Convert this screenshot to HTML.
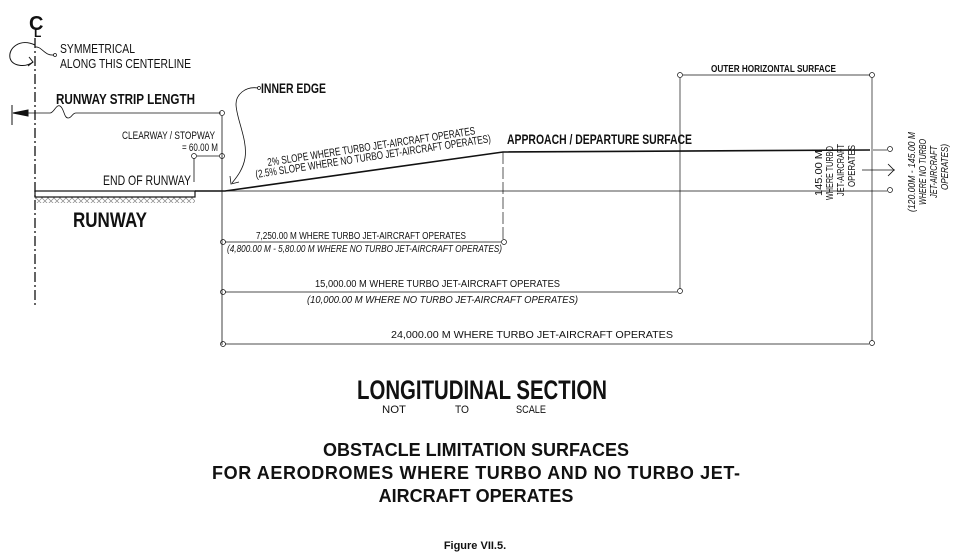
<!DOCTYPE html>
<html><head><meta charset="utf-8"><style>
html,body{margin:0;padding:0;background:#fff;}
svg{display:block;font-family:"Liberation Sans",Arial,sans-serif;}
</style></head><body>
<svg width="962" height="560" viewBox="0 0 962 560" xmlns="http://www.w3.org/2000/svg">
<defs>
<pattern id="h" width="6" height="6" patternUnits="userSpaceOnUse">
<path d="M0 6 L6 0 M0 0 L6 6" stroke="#888" stroke-width="0.7"/>
</pattern>
</defs>
<g fill="none" stroke="#111">
<line x1="35" y1="38" x2="35" y2="305" stroke-width="1.3" stroke-dasharray="10,3,2,3"/>
<path d="M35 45 C20 38 8 48 10 58 C12 66 25 68 33 62" stroke-width="1"/>
<path d="M28 66 L33 62 L29 57" stroke-width="1"/>
<path d="M35 47 C42 46 44 56 54 55" stroke-width="0.8"/>
<circle cx="55" cy="55" r="1.5" stroke-width="0.7"/>
<line x1="12" y1="105" x2="12" y2="125" stroke-width="1"/>
<path d="M14 113 L50 113 C54 113 56 104 60 106 C64 108 64 118 68 118 C72 118 72 113 76 113 L221 113" stroke-width="0.8"/>
<path d="M13 113 L28 110 L28 116 Z" fill="#111"/>
<circle cx="222" cy="113" r="2.5" stroke-width="0.7"/>
<line x1="222" y1="116" x2="222" y2="345" stroke-width="0.8"/>
<line x1="194" y1="158" x2="194" y2="182" stroke-width="0.8"/>
<line x1="197" y1="156" x2="219" y2="156" stroke-width="0.8"/>
<circle cx="194" cy="156" r="2.5" stroke-width="0.7"/>
<circle cx="222" cy="156" r="2.5" stroke-width="0.7"/>
<rect x="35" y="197" width="160" height="6" fill="url(#h)" stroke="none"/>
<rect x="35" y="191" width="160" height="6" stroke-width="1.2"/>
<path d="M195 191 L225 191 L503 152 L870 150" stroke-width="1.6"/>
<line x1="225" y1="191" x2="873" y2="191" stroke-width="0.7"/>
<line x1="873" y1="150" x2="887" y2="150" stroke-width="0.7"/>
<line x1="873" y1="191" x2="887" y2="191" stroke-width="0.7"/>
<circle cx="890" cy="149" r="2.5" stroke-width="0.7"/>
<circle cx="890" cy="190" r="2.5" stroke-width="0.7"/>
<line x1="862" y1="170" x2="895" y2="170" stroke-width="0.8"/>
<path d="M888 164 L894 170 L888 176" stroke-width="0.8"/>
<path d="M258 88 C245 86 236 95 236 104 C236 118 248 140 245 158 C243 170 236 178 232 183" stroke-width="0.8"/>
<path d="M230 176 L231 184 L239 182" stroke-width="0.8"/>
<circle cx="259" cy="88" r="1.5" stroke-width="0.7"/>
<line x1="503" y1="152" x2="503" y2="240" stroke-width="0.7" stroke-dasharray="12,3"/>
<line x1="225" y1="242" x2="501" y2="242" stroke-width="0.8"/>
<circle cx="223" cy="242" r="2.5" stroke-width="0.7"/>
<circle cx="504" cy="242" r="2.5" stroke-width="0.7"/>
<line x1="680" y1="78" x2="680" y2="289" stroke-width="0.7"/>
<line x1="683" y1="75" x2="870" y2="75" stroke-width="0.7"/>
<circle cx="680" cy="75" r="2.5" stroke-width="0.7"/>
<circle cx="872" cy="75" r="2.5" stroke-width="0.7"/>
<line x1="872" y1="78" x2="872" y2="341" stroke-width="0.7"/>
<line x1="225" y1="292" x2="677" y2="292" stroke-width="0.8"/>
<circle cx="223" cy="292" r="2.5" stroke-width="0.7"/>
<circle cx="680" cy="291" r="2.5" stroke-width="0.7"/>
<line x1="225" y1="344" x2="869" y2="344" stroke-width="0.8"/>
<circle cx="223" cy="344" r="2.5" stroke-width="0.7"/>
<circle cx="872" cy="343" r="2.5" stroke-width="0.7"/>
</g>
<g fill="#111">
<text x="29" y="30" font-size="20" font-weight="bold">C</text>
<text x="34" y="37" font-size="12" font-weight="bold">L</text>
<text x="60" y="53" font-size="13" textLength="75" lengthAdjust="spacingAndGlyphs">SYMMETRICAL</text>
<text x="60" y="68" font-size="13" textLength="131" lengthAdjust="spacingAndGlyphs">ALONG THIS CENTERLINE</text>
<text x="56" y="104" font-size="15" font-weight="bold" textLength="139" lengthAdjust="spacingAndGlyphs">RUNWAY STRIP LENGTH</text>
<text x="261" y="93" font-size="14" font-weight="bold" textLength="65" lengthAdjust="spacingAndGlyphs">INNER EDGE</text>
<text x="122" y="139" font-size="11" textLength="93" lengthAdjust="spacingAndGlyphs">CLEARWAY / STOPWAY</text>
<text x="182" y="151" font-size="11" textLength="36" lengthAdjust="spacingAndGlyphs">= 60.00 M</text>
<text x="103" y="185" font-size="14" textLength="88" lengthAdjust="spacingAndGlyphs">END OF RUNWAY</text>
<text x="73" y="227" font-size="21" font-weight="bold" textLength="74" lengthAdjust="spacingAndGlyphs">RUNWAY</text>
<text transform="translate(268,166) rotate(-8.7)" font-size="11" textLength="210" lengthAdjust="spacingAndGlyphs">2% SLOPE WHERE TURBO JET-AIRCRAFT OPERATES</text>
<text transform="translate(256,178) rotate(-8.7)" font-size="11" textLength="238" lengthAdjust="spacingAndGlyphs">(2.5% SLOPE WHERE NO TURBO JET-AIRCRAFT OPERATES)</text>
<text x="507" y="144" font-size="14" font-weight="bold" textLength="185" lengthAdjust="spacingAndGlyphs">APPROACH / DEPARTURE SURFACE</text>
<text x="711" y="72" font-size="10" font-weight="bold" textLength="125" lengthAdjust="spacingAndGlyphs">OUTER HORIZONTAL SURFACE</text>
<g font-size="10" text-anchor="middle">
<text transform="translate(822,173) rotate(-90)" textLength="46" lengthAdjust="spacingAndGlyphs">145.00 M</text>
<text transform="translate(833,173) rotate(-90)" textLength="54" lengthAdjust="spacingAndGlyphs">WHERE TURBO</text>
<text transform="translate(844,170) rotate(-90)" textLength="52" lengthAdjust="spacingAndGlyphs">JET-AIRCRAFT</text>
<text transform="translate(855,166) rotate(-90)" textLength="42" lengthAdjust="spacingAndGlyphs">OPERATES</text>
<g font-style="italic">
<text transform="translate(915,172) rotate(-90)" textLength="80" lengthAdjust="spacingAndGlyphs">(120.00M - 145.00 M</text>
<text transform="translate(926,172) rotate(-90)" textLength="66" lengthAdjust="spacingAndGlyphs">WHERE NO TURBO</text>
<text transform="translate(937,172) rotate(-90)" textLength="52" lengthAdjust="spacingAndGlyphs">JET-AIRCRAFT</text>
<text transform="translate(948,167) rotate(-90)" textLength="46" lengthAdjust="spacingAndGlyphs">OPERATES)</text>
</g>
</g>
<text x="256" y="239" font-size="10" textLength="210" lengthAdjust="spacingAndGlyphs">7,250.00 M WHERE TURBO JET-AIRCRAFT OPERATES</text>
<text x="227" y="252" font-size="10" font-style="italic" textLength="275" lengthAdjust="spacingAndGlyphs">(4,800.00 M - 5,80.00 M WHERE NO TURBO JET-AIRCRAFT OPERATES)</text>
<text x="315" y="287" font-size="10" textLength="245" lengthAdjust="spacingAndGlyphs">15,000.00 M WHERE TURBO JET-AIRCRAFT OPERATES</text>
<text x="307" y="303" font-size="10" font-style="italic" textLength="271" lengthAdjust="spacingAndGlyphs">(10,000.00 M WHERE NO TURBO JET-AIRCRAFT OPERATES)</text>
<text x="391" y="338" font-size="10" textLength="282" lengthAdjust="spacingAndGlyphs">24,000.00 M WHERE TURBO JET-AIRCRAFT OPERATES</text>
<text x="357" y="399" font-size="27" font-weight="bold" textLength="250" lengthAdjust="spacingAndGlyphs">LONGITUDINAL SECTION</text>
<text x="382" y="413" font-size="11" textLength="24" lengthAdjust="spacingAndGlyphs">NOT</text>
<text x="455" y="413" font-size="11" textLength="14" lengthAdjust="spacingAndGlyphs">TO</text>
<text x="516" y="413" font-size="11" textLength="30" lengthAdjust="spacingAndGlyphs">SCALE</text>
<g font-size="18" font-weight="bold" text-anchor="middle">
<text x="476" y="456">OBSTACLE LIMITATION SURFACES</text>
<text x="476" y="479" textLength="528">FOR AERODROMES WHERE TURBO AND NO TURBO JET-</text>
<text x="476" y="502">AIRCRAFT OPERATES</text>
</g>
<text x="475" y="549" font-size="11" font-weight="bold" text-anchor="middle">Figure VII.5.</text>
</g>
</svg>
</body></html>
